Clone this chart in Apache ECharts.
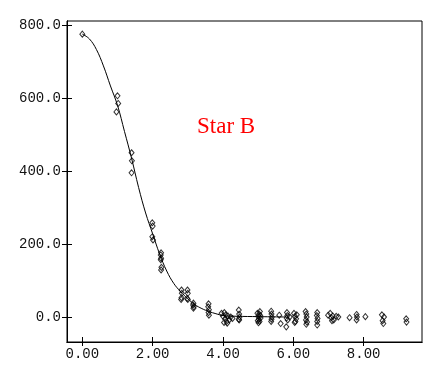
<!DOCTYPE html>
<html>
<head>
<meta charset="utf-8">
<script src="https://cdn.jsdelivr.net/npm/echarts@6/dist/echarts.min.js"></script>
<style>
html,body{margin:0;padding:0;background:#fff;}
#chart{width:439px;height:376px;}
</style>
</head>
<body>
<div id="chart"></div>
<script>
// Fitted curve
var curveX = [0.0, 0.2, 0.4, 0.6, 0.8, 1.0, 1.2, 1.4, 1.6, 1.8, 2.0, 2.2, 2.4, 2.6, 2.8, 3.0, 3.2, 3.4, 3.6, 3.8, 4.0, 4.4, 5.0, 5.8];
var curveY = [775, 762, 733, 688, 633, 580, 508, 435, 355, 285, 228, 172, 126, 92, 69, 50, 34, 23, 15, 9, 4, 2, 1, 0];

// Observed points
var pointX = [0.0,
  1.00, 1.02, 0.97,
  1.40, 1.41, 1.40,
  1.99, 2.00, 1.99, 2.01,
  2.24, 2.23, 2.24, 2.23, 2.25, 2.24,
  2.82, 2.83, 2.82, 2.81,
  2.99, 3.00, 2.98, 3.00,
  3.16, 3.15, 3.17, 3.16,
  3.59, 3.58, 3.60, 3.59, 3.60,
  3.96, 4.00, 4.04, 4.06, 4.08, 4.10, 4.14, 4.18, 4.22, 4.03, 4.12, 4.27,
  4.45, 4.46, 4.47, 4.45, 4.46,
  4.98, 5.00, 5.02, 5.04, 5.06, 5.01, 5.05, 5.07, 4.99, 5.03,
  5.37, 5.38, 5.39, 5.38, 5.37,
  5.60, 5.64, 5.80,
  5.82, 5.83, 5.81, 5.84, 5.90,
  6.02, 6.05, 6.08, 6.06, 6.10, 6.04,
  6.35, 6.37, 6.38, 6.36, 6.39, 6.37,
  6.68, 6.67, 6.69, 6.68, 6.68,
  6.99, 7.05, 7.08, 7.12, 7.15, 7.22, 7.28, 7.10,
  7.60,
  7.80, 7.81, 7.80,
  8.05,
  8.52, 8.58, 8.54, 8.56,
  9.21, 9.22];
var pointY = [775,
  606, 585, 562,
  450, 428, 395,
  258, 249, 220, 211,
  176, 170, 161, 157, 136, 129,
  74, 65, 53, 48,
  74, 65, 51, 48,
  38, 33, 28, 24,
  36, 28, 20, 12, 5,
  10, 2, 12, -5, 6, -12, 3, -8, 0, -15, -17, -4,
  19, 8, 0, -6, -8,
  10, 2, -6, -12, 4, -16, 15, -3, -10, 8,
  16, 8, 0, -6, -12,
  5, -18, -27,
  12, 4, -3, -8, 0,
  10, 2, -5, -12, 6, -15,
  15, 8, 0, -8, -14, -20,
  12, 4, -4, -12, -22,
  5, 10, -2, 3, -8, 2, 0, -10,
  -2,
  7, 0, -8,
  1,
  6, 0, -10, -18,
  -5, -14];

var xTicks = [0, 2, 4, 6, 8];
var yTicks = [0, 200, 400, 600, 800];
var label = 'Star B';

var curveData = curveX.map(function (x, i) { return [x, curveY[i]]; });
var pointData = pointX.map(function (x, i) { return [x, pointY[i]]; });

var xMin = -0.436, xMax = 9.66, yMin = -68.5, yMax = 811;
var fontMono = '"Liberation Mono", "DejaVu Sans Mono", monospace';

function xAxisDef(inside, showLabel) {
  return {
    type: 'value', min: xMin, max: xMax, position: 'bottom',
    splitLine: {show: false},
    axisLine: {show: true, onZero: false, lineStyle: {color: '#000', width: 1}},
    axisTick: {show: true, inside: inside, length: inside ? 5 : 4, customValues: xTicks, lineStyle: {color: '#000', width: 1}},
    axisLabel: {show: showLabel, customValues: xTicks, margin: 5, color: '#111', fontFamily: fontMono, fontSize: 14,
      formatter: function (v) { return v.toFixed(2); }}
  };
}
function yAxisDef(inside, showLabel) {
  return {
    type: 'value', min: yMin, max: yMax, position: 'left',
    splitLine: {show: false},
    axisLine: {show: true, onZero: false, lineStyle: {color: '#000', width: 1}},
    axisTick: {show: true, inside: inside, length: 5, customValues: yTicks, lineStyle: {color: '#000', width: 1}},
    axisLabel: {show: showLabel, customValues: yTicks, margin: 6, color: '#111', fontFamily: fontMono, fontSize: 14,
      formatter: function (v) { return v.toFixed(1); }}
  };
}

var chart = echarts.init(document.getElementById('chart'), null, {renderer: 'canvas'});
chart.setOption({
  animation: false,
  backgroundColor: '#fff',
  grid: {left: 67, top: 21, right: 17, bottom: 34, show: true, borderColor: '#000', borderWidth: 1, backgroundColor: 'transparent'},
  xAxis: [xAxisDef(false, true), xAxisDef(true, false)],
  yAxis: [yAxisDef(false, true), yAxisDef(true, false)],
  graphic: [{
    type: 'text', left: 197, top: 115,
    style: {text: label, fill: '#ff0000', font: '23px "Liberation Serif", "Times New Roman", serif'}
  }],
  series: [
    {
      type: 'line', data: curveData, smooth: 0.4, showSymbol: false, symbol: 'none',
      lineStyle: {color: '#000', width: 1}, xAxisIndex: 0, yAxisIndex: 0, z: 2
    },
    {
      type: 'scatter', data: pointData, symbol: 'diamond', symbolSize: [5, 6],
      itemStyle: {color: 'rgba(255,255,255,0)', borderColor: '#000', borderWidth: 1},
      xAxisIndex: 0, yAxisIndex: 0, z: 3
    }
  ]
});
</script>
</body>
</html>
